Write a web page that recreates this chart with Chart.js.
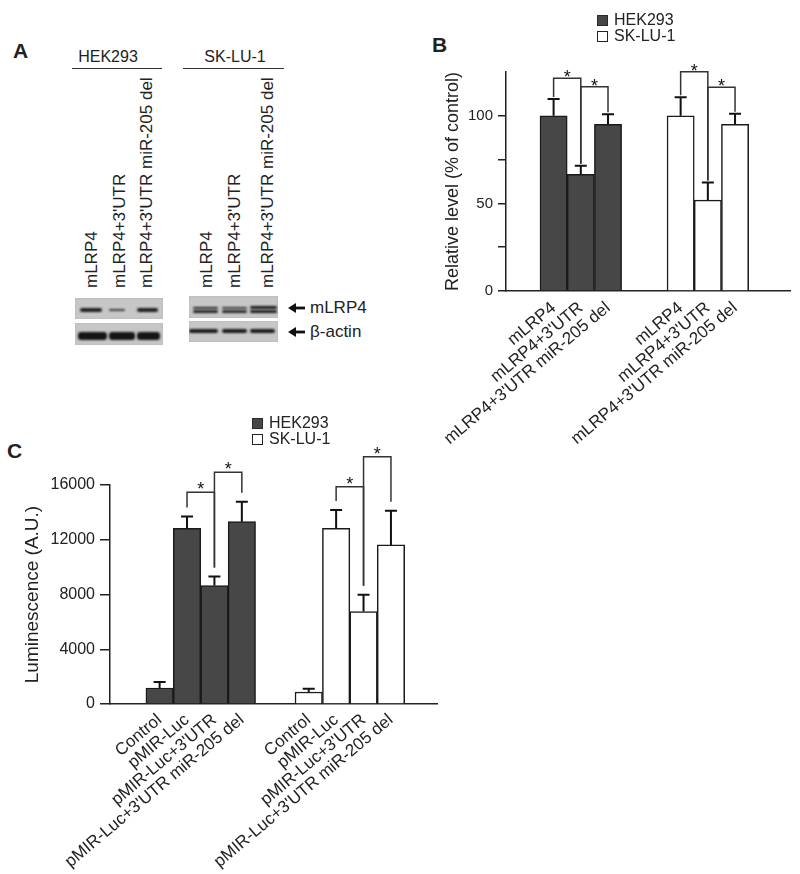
<!DOCTYPE html>
<html>
<head>
<meta charset="utf-8">
<script src="https://cdn.jsdelivr.net/npm/chart.js@4.4.1/dist/chart.umd.min.js"></script>
<style>
  body { margin: 0; background: #fff; font-family: 'Liberation Sans', Arial, Helvetica, sans-serif; color: #222; }
  #fig { position: relative; width: 800px; height: 874px; overflow: hidden; }
  .abs { position: absolute; white-space: nowrap; }
  .letter { font-weight: bold; font-size: 21px; line-height: 21px; }
  .hdr { font-size: 16px; line-height: 16px; transform: translateX(-50%); }
  .rule { position: absolute; height: 1.5px; background: #333; }
  .lane { font-size: 17px; line-height: 17px; transform: rotate(-90deg); transform-origin: 0 0; }
  .blot { position: absolute; background: #c7c7c7; box-shadow: inset 0 0 3px rgba(0,0,0,0.08); overflow: hidden; }
  .band { position: absolute; background: #1e1e1e; border-radius: 3px; filter: blur(0.8px); }
  .mark { font-size: 17px; line-height: 17px; }
  .leg { position: absolute; font-size: 16px; line-height: 16px; display: flex; align-items: center; white-space: nowrap; }
  .leg span.box { display: inline-block; width: 9px; height: 9px; border: 1.5px solid #222; margin-right: 6px; }
  canvas { position: absolute; }
</style>
</head>
<body>
<div id="fig">
  <div class="abs letter" style="left:13px;top:40px">A</div>
  <div class="abs letter" style="left:432px;top:34px">B</div>
  <div class="abs letter" style="left:7px;top:440px">C</div>

  <div id="panel-a"></div>

  <canvas id="chart-b" width="400" height="450" style="left:400px;top:0"></canvas>
  <canvas id="chart-c" width="460" height="474" style="left:0;top:400px"></canvas>
  <div id="legend-b"></div>
  <div id="legend-c"></div>
</div>

<script>
// ---- data ----
const cellLines = ['HEK293', 'SK-LU-1'];

// panel B: relative mLRP4 level (% of control)
const labelsB = ['mLRP4', "mLRP4+3'UTR", "mLRP4+3'UTR miR-205 del"];
const hekB = [100, 66.6, 95.1];
const hekErrB = [9.6, 4.9, 5.8];
const skB = [100, 51.9, 95.1];
const skErrB = [10.6, 10.1, 6.1];
const yTicksB = [0, 50, 100];
// significance brackets: [cell line, from bar, to bar, height]
const sigB = [[0, 0, 1, 121.4], [0, 1, 2, 116.6], [1, 0, 1, 125.2], [1, 1, 2, 116.3]];

// panel C: luciferase
const labelsC = ['Control', 'pMIR-Luc', "pMIR-Luc+3'UTR", "pMIR-Luc+3'UTR miR-205 del"];
const hekC = [1170, 12840, 8650, 13320];
const hekErrC = [440, 850, 660, 1460];
const skC = [880, 12840, 6760, 11620];
const skErrC = [240, 1330, 1220, 2500];
const yTicksC = [0, 4000, 8000, 12000, 16000];
const sigC = [[0, 1, 2, 15470], [0, 2, 3, 16930], [1, 1, 2, 15880], [1, 2, 3, 18060]];

const FONT = "'Liberation Sans', Arial, Helvetica, sans-serif";
const INK = '#222';
const DARK = '#474747';

Chart.defaults.font.family = FONT;
Chart.defaults.color = INK;
Chart.defaults.animation = false;

// ---- panel A (western blot) ----
function buildPanelA() {
  const root = document.getElementById('panel-a');
  const add = (html) => root.insertAdjacentHTML('beforeend', html);

  // header + rule for each cell line
  const heads = [{ cx: 108, x0: 72, x1: 162 }, { cx: 235, x0: 183, x1: 284 }];
  heads.forEach((h, i) => {
    add(`<div class="abs hdr" style="left:${h.cx}px;top:49px">${cellLines[i]}</div>`);
    add(`<div class="rule" style="left:${h.x0}px;top:67.5px;width:${h.x1 - h.x0}px"></div>`);
  });

  // rotated lane labels
  const laneX = [[91, 119, 146], [206, 234, 267]];
  laneX.forEach(xs => xs.forEach((cx, j) => {
    add(`<div class="abs lane" style="left:${cx - 8.5}px;top:288px">${labelsB[j]}</div>`);
  }));

  // blots: rect + bands (left, width, top, height, colour)
  const blots = [
    { x: 75, y: 298, w: 88, h: 21, bands: [[5, 22, 10, 3.5, '#202020'], [34, 16, 10.5, 2.5, '#3a3a3a'], [62, 21, 10, 3.5, '#202020']] },
    { x: 75, y: 323, w: 88, h: 22, bands: [[3, 29, 9, 8, '#151515'], [34, 26, 9, 8, '#151515'], [62, 23, 9, 8, '#151515']] },
    { x: 189, y: 296, w: 89, h: 22, bands: [[4, 25, 10.5, 2.5, '#222'], [4, 25, 14, 2.5, '#222'], [33, 25, 10.5, 2, '#3a3a3a'], [33, 25, 14, 2.5, '#2a2a2a'], [61, 27, 10, 3, '#1a1a1a'], [61, 27, 13.5, 3, '#1a1a1a']] },
    { x: 189, y: 321, w: 89, h: 21, bands: [[0, 29, 8, 4, '#1a1a1a'], [33, 25, 8, 4, '#1a1a1a'], [61, 25, 7.5, 4, '#1a1a1a']] }
  ];
  blots.forEach(b => {
    const inner = b.bands.map(([bx, bw, by, bh, c]) =>
      `<div class="band" style="left:${bx}px;width:${bw}px;top:${by}px;height:${bh}px;background:${c}"></div>`).join('');
    add(`<div class="blot" style="left:${b.x}px;top:${b.y}px;width:${b.w}px;height:${b.h}px">${inner}</div>`);
  });

  // arrows and band names
  [['mLRP4', 308], ['β-actin', 332]].forEach(([txt, cy]) => {
    add(`<svg class="abs" style="left:287px;top:${cy - 6}px" width="20" height="12">
           <path d="M1 6 L9 1 L9 11 Z" fill="#111"/><rect x="8" y="4.6" width="10" height="2.8" fill="#111"/></svg>`);
    add(`<div class="abs mark" style="left:310px;top:${cy - 9}px">${txt}</div>`);
  });
}

// ---- chart helpers ----
function errorBarPlugin(capHalf) {
  return {
    id: 'errorBars',
    afterDatasetsDraw(chart) {
      const ctx = chart.ctx;
      const yScale = chart.scales.y;
      chart.data.datasets.forEach((ds, i) => {
        chart.getDatasetMeta(i).data.forEach((bar, j) => {
          const top = yScale.getPixelForValue(ds.data[j].y + ds.errors[j]);
          ctx.save();
          ctx.strokeStyle = '#111';
          ctx.lineWidth = 2;
          ctx.beginPath();
          ctx.moveTo(bar.x, bar.y);
          ctx.lineTo(bar.x, top);
          ctx.moveTo(bar.x - capHalf, top);
          ctx.lineTo(bar.x + capHalf, top);
          ctx.stroke();
          ctx.restore();
        });
      });
    }
  };
}

function bracketPlugin(items, gap, starLift) {
  return {
    id: 'brackets',
    afterDatasetsDraw(chart) {
      const ctx = chart.ctx;
      const yScale = chart.scales.y;
      const legEnd = (ds, j) => yScale.getPixelForValue(ds.data[j].y + ds.errors[j]) - gap;
      items.forEach(([g, a, b, level]) => {
        const ds = chart.data.datasets[g];
        const bars = chart.getDatasetMeta(g).data;
        const yl = yScale.getPixelForValue(level);
        ctx.save();
        ctx.strokeStyle = '#333';
        ctx.lineWidth = 1.5;
        ctx.beginPath();
        ctx.moveTo(bars[a].x, legEnd(ds, a));
        ctx.lineTo(bars[a].x, yl);
        ctx.lineTo(bars[b].x, yl);
        ctx.lineTo(bars[b].x, legEnd(ds, b));
        ctx.stroke();
        ctx.fillStyle = '#111';
        ctx.font = `18px ${FONT}`;
        ctx.textAlign = 'center';
        ctx.textBaseline = 'alphabetic';
        ctx.fillText('*', (bars[a].x + bars[b].x) / 2, yl + starLift);
        ctx.restore();
      });
    }
  };
}

function makePanel(p) {
  const n = p.labels.length;
  const slot = n + p.gapSlots;
  const xs = [];
  const datasets = p.series.map((s, g) => {
    const data = s.values.map((v, j) => {
      xs.push(g * slot + j);
      return { x: g * slot + j, y: v };
    });
    return {
      label: s.name,
      data,
      errors: s.errors,
      backgroundColor: s.color,
      borderColor: '#1a1a1a',
      borderWidth: 1.5,
      grouped: false,
      barPercentage: 1,
      categoryPercentage: 1
    };
  });

  const chart = new Chart(document.getElementById(p.canvas), {
    type: 'bar',
    data: { datasets },
    options: {
      responsive: false,
      animation: false,
      layout: { padding: p.padding },
      plugins: { legend: { display: false }, tooltip: { enabled: false } },
      scales: {
        x: {
          type: 'linear',
          min: p.xMin,
          max: p.xMax,
          offset: false,
          afterBuildTicks: s => { s.ticks = xs.map(v => ({ value: v })); },
          afterFit: s => { s.height = p.xHeight; },
          grid: { display: false, drawTicks: false },
          border: { display: true, color: INK, width: 1.5 },
          ticks: {
            autoSkip: false,
            minRotation: 40,
            maxRotation: 40,
            padding: p.xPad,
            color: INK,
            font: { size: 17 },
            callback: (v, i) => p.labels[i % n]
          }
        },
        y: {
          min: 0,
          max: p.yMax,
          afterBuildTicks: s => { s.ticks = s.ticks.filter(t => t.value <= p.yTop); },
          afterFit: s => { s.width = p.yWidth; },
          grid: { display: true, drawOnChartArea: false, drawTicks: true, tickLength: p.tickLen, color: INK, lineWidth: 1.5 },
          border: { display: true, color: INK, width: 1.5 },
          ticks: {
            stepSize: p.yStep,
            padding: 5,
            color: INK,
            font: { size: p.tickSize },
            callback: v => (p.yLabels.includes(v) ? String(v) : '')
          },
          title: {
            display: true,
            text: p.title,
            color: INK,
            font: { size: p.titleSize },
            padding: { top: p.titlePad, bottom: 0 }
          }
        }
      }
    },
    plugins: [errorBarPlugin(6), bracketPlugin(p.sig, p.bracketGap, p.starLift)]
  });

  // legend built from the chart's own datasets
  const leg = document.getElementById(p.legendId);
  chart.data.datasets.forEach((ds, i) => {
    const row = document.createElement('div');
    row.className = 'leg';
    row.style.left = p.legendX + 'px';
    row.style.top = (p.legendY + i * 16) + 'px';
    row.innerHTML = `<span class="box" style="background:${ds.backgroundColor};border-color:${ds.backgroundColor === '#fff' ? INK : '#2a2a2a'}"></span>${ds.label}`;
    leg.appendChild(row);
  });
  return chart;
}

buildPanelA();

makePanel({
  canvas: 'chart-b',
  legendId: 'legend-b',
  legendX: 597, legendY: 12,
  labels: labelsB,
  series: [
    { name: cellLines[0], values: hekB, errors: hekErrB, color: DARK },
    { name: cellLines[1], values: skB, errors: skErrB, color: '#fff' }
  ],
  sig: sigB,
  gapSlots: 1.67,
  xMin: -1.75, xMax: 8.69,
  yMax: 125, yTop: 100, yStep: 25, yLabels: yTicksB,
  padding: { top: 72, right: 10, left: 0, bottom: 0 },
  yWidth: 106, xHeight: 159, xPad: 7,
  tickLen: 8, tickSize: 15,
  title: 'Relative level (% of control)', titleSize: 18, titlePad: 42,
  bracketGap: 2, starLift: 5
});

makePanel({
  canvas: 'chart-c',
  legendId: 'legend-c',
  legendX: 252, legendY: 415,
  labels: labelsC,
  series: [
    { name: cellLines[0], values: hekC, errors: hekErrC, color: DARK },
    { name: cellLines[1], values: skC, errors: skErrC, color: '#fff' }
  ],
  sig: sigC,
  gapSlots: 1.44,
  xMin: -1.81, xMax: 10.12,
  yMax: 16000, yTop: 16000, yStep: 4000, yLabels: yTicksC,
  padding: { top: 85, right: 23, left: 0, bottom: 0 },
  yWidth: 110, xHeight: 170, xPad: 6,
  tickLen: 10, tickSize: 16,
  title: 'Luminescence (A.U.)', titleSize: 19, titlePad: 21,
  bracketGap: 9, starLift: 3
});
</script>
</body>
</html>
